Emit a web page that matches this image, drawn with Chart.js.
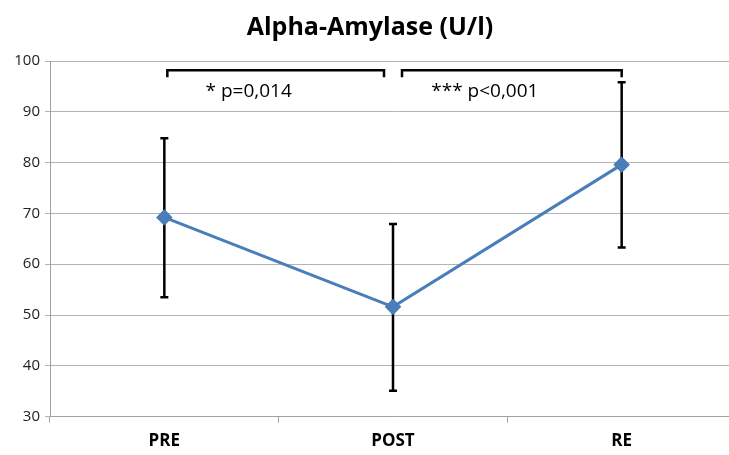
<!DOCTYPE html>
<html>
<head>
<meta charset="utf-8">
<script src="https://cdn.jsdelivr.net/npm/chart.js@4.4.1/dist/chart.umd.min.js"></script>
<style>
  html, body { margin: 0; padding: 0; overflow: hidden; background: #fff; }
  #wrap { width: 745px; height: 459px; }
</style>
</head>
<body>
<div id="wrap"><canvas id="myChart" width="745" height="459"></canvas></div>
<script>
// data
var categories = ['PRE', 'POST', 'RE'];
var means = [69.2, 51.6, 79.6];
var errLow = [53.5, 35.1, 63.3];
var errHigh = [84.8, 67.9, 95.8];
var yTicks = [30, 40, 50, 60, 70, 80, 90, 100];
// brackets: from category, to category, label
var brFrom = [0, 1];
var brTo = [1, 2];
var brLabels = ['* p=0,014', '*** p<0,001'];
var brLevel = 98.2;

var errorBars = {
  id: 'errorBars',
  afterDatasetsDraw: function(chart) {
    var ctx = chart.ctx;
    var x = chart.scales.x, y = chart.scales.y;
    ctx.save();
    ctx.strokeStyle = '#000';
    ctx.lineWidth = 2.5;
    for (var i = 0; i < means.length; i++) {
      var px = x.getPixelForValue(i);
      var top = y.getPixelForValue(errHigh[i]);
      var bot = y.getPixelForValue(errLow[i]);
      ctx.beginPath();
      ctx.moveTo(px, top); ctx.lineTo(px, bot);
      ctx.moveTo(px - 4, top); ctx.lineTo(px + 4, top);
      ctx.moveTo(px - 4, bot); ctx.lineTo(px + 4, bot);
      ctx.stroke();
    }
    // redraw points on top of the bars
    var meta = chart.getDatasetMeta(0);
    meta.data.forEach(function(p) { p.draw(ctx); });
    ctx.restore();

    // significance brackets
    ctx.save();
    ctx.strokeStyle = '#000';
    ctx.lineWidth = 2.5;
    ctx.font = '19px "Open Sans", "Liberation Sans", sans-serif';
    ctx.fillStyle = '#000';
    ctx.textAlign = 'center';
    ctx.textBaseline = 'middle';
    var by = y.getPixelForValue(brLevel);
    for (var j = 0; j < brLabels.length; j++) {
      var x1 = x.getPixelForValue(brFrom[j]) + (j == 0 ? 3 : 9);
      var x2 = x.getPixelForValue(brTo[j]) - (j == 0 ? 9 : 0);
      ctx.beginPath();
      ctx.moveTo(x1, by + 7); ctx.lineTo(x1, by); ctx.lineTo(x2, by); ctx.lineTo(x2, by + 7);
      ctx.stroke();
      ctx.fillText(brLabels[j], (x1 + x2) / 2 - 27, by + 21);
    }
    ctx.restore();
  }
};

var ctx = document.getElementById('myChart');
var myChart = new Chart(ctx, {
  type: 'line',
  data: {
    labels: categories,
    datasets: [{
      data: means,
      borderColor: '#4a7ebb',
      backgroundColor: '#4a7ebb',
      borderWidth: 3,
      pointStyle: 'rectRot',
      pointRadius: 6,
      pointHoverRadius: 6,
      tension: 0
    }]
  },
  options: {
    responsive: false,
    animation: false,
    layout: { padding: { left: 0, right: 5, top: 0, bottom: 0 } },
    plugins: {
      legend: { display: false },
      tooltip: { enabled: false },
      title: {
        display: true,
        text: 'Alpha-Amylase (U/l)',
        color: '#000',
        font: { family: '"Open Sans", "Liberation Sans", sans-serif', size: 25, weight: 'bold' },
        padding: { top: 13, bottom: 18 }
      }
    },
    scales: {
      x: {
        offset: true,
        grid: { offset: true, drawOnChartArea: false, drawTicks: true, tickLength: 6, color: '#a0a0a0' },
        border: { color: '#a0a0a0', width: 1 },
        ticks: {
          color: '#000',
          padding: 8,
          font: { family: '"Open Sans", "Liberation Sans", sans-serif', size: 17, weight: 'bold' }
        }
      },
      y: {
        min: 30, max: 100,
        afterBuildTicks: function(s) { s.ticks = yTicks.map(function(v) { return { value: v }; }); },
        afterFit: function(s) { s.width = 50; },
        grid: { color: '#b4b4b4', tickLength: 5 },
        border: { color: '#a0a0a0', width: 1 },
        ticks: {
          color: '#222',
          padding: 5,
          font: { family: '"Open Sans", "Liberation Sans", sans-serif', size: 15 }
        }
      }
    }
  },
  plugins: [errorBars]
});
</script>
</body>
</html>
